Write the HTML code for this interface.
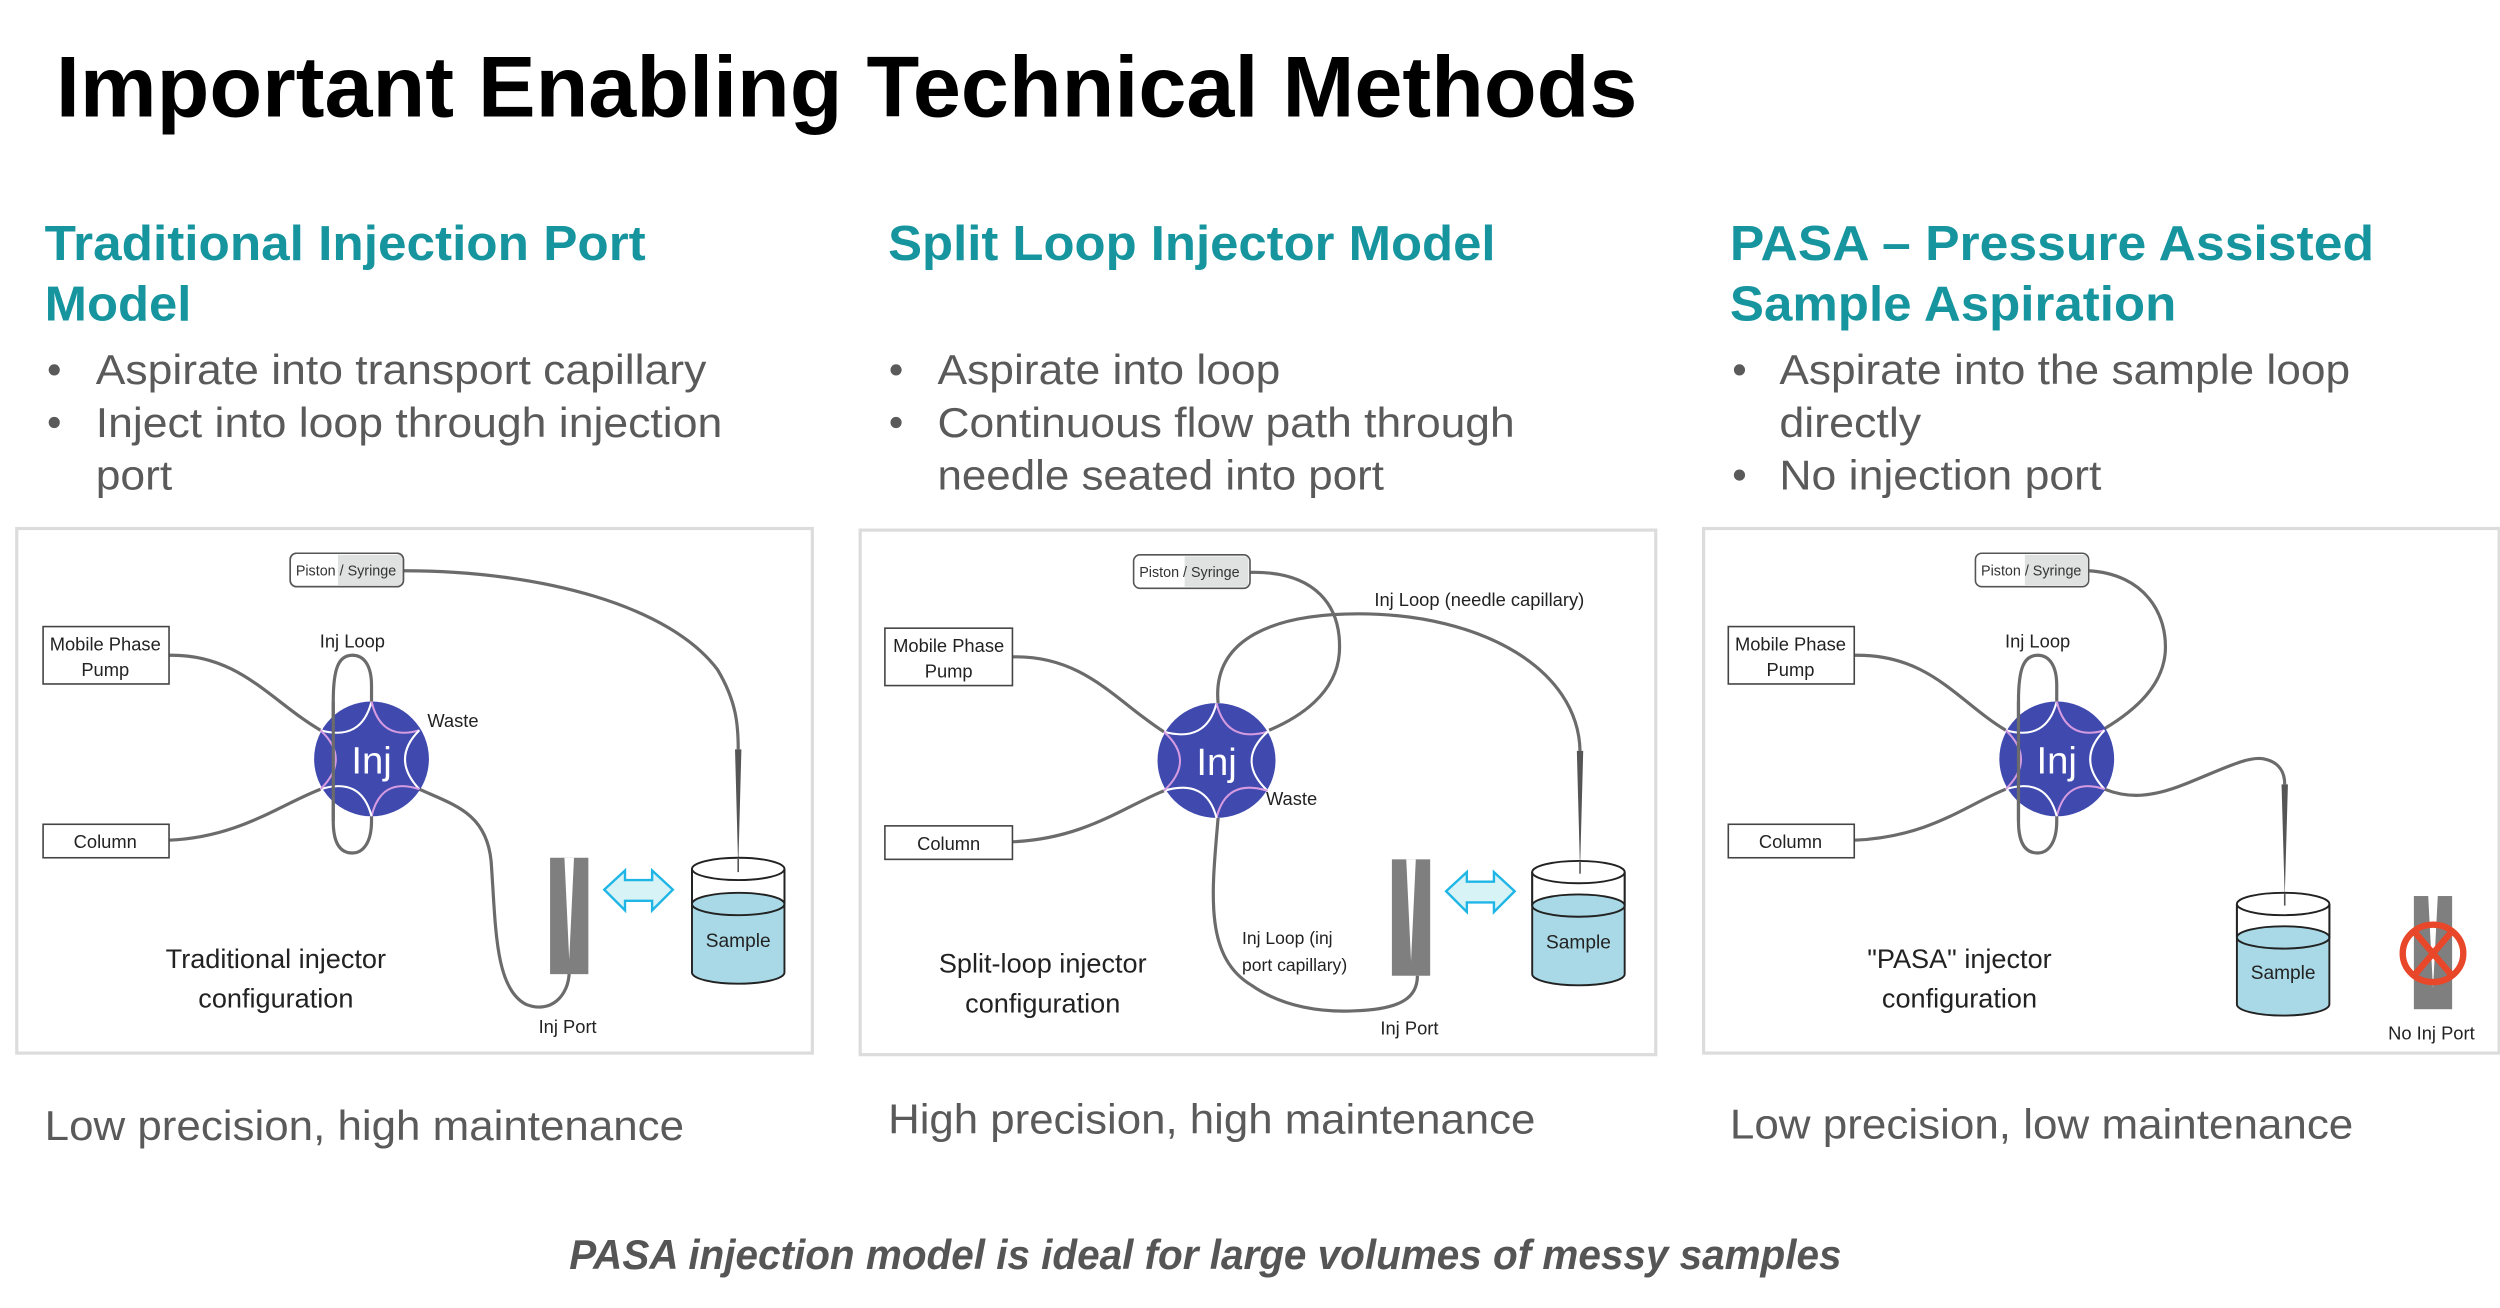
<!DOCTYPE html>
<html><head><meta charset="utf-8"><style>
html,body{margin:0;padding:0;background:#fff;}
svg{display:block;}
text{font-family:"Liberation Sans",sans-serif;}
</style></head><body>
<svg width="2500" height="1308" viewBox="0 0 1568 820.4" xmlns="http://www.w3.org/2000/svg">
<rect width="1568" height="821" fill="#fff"/>
<!-- Title -->
<text x="35" y="73" font-size="54" font-weight="bold" fill="#000" textLength="992" lengthAdjust="spacingAndGlyphs">Important Enabling Technical Methods</text>
<!-- Headings -->
<g fill="#17959f" font-weight="bold" font-size="31">
<text x="28" y="163" textLength="377" lengthAdjust="spacingAndGlyphs">Traditional Injection Port</text>
<text x="28" y="201" textLength="92" lengthAdjust="spacingAndGlyphs">Model</text>
<text x="557" y="163" textLength="381" lengthAdjust="spacingAndGlyphs">Split Loop Injector Model</text>
<text x="1085" y="163" textLength="404" lengthAdjust="spacingAndGlyphs">PASA – Pressure Assisted</text>
<text x="1085" y="201" textLength="280" lengthAdjust="spacingAndGlyphs">Sample Aspiration</text>
</g>
<!-- Bullets -->
<g fill="#5a5a5a" font-size="26">
<circle cx="34" cy="232" r="3.5"/><circle cx="34" cy="265" r="3.5"/>
<text x="60" y="241" textLength="383" lengthAdjust="spacingAndGlyphs">Aspirate into transport capillary</text>
<text x="60" y="274" textLength="393" lengthAdjust="spacingAndGlyphs">Inject into loop through injection</text>
<text x="60" y="307" textLength="48" lengthAdjust="spacingAndGlyphs">port</text>
<circle cx="562" cy="232" r="3.5"/><circle cx="562" cy="265" r="3.5"/>
<text x="588" y="241" textLength="215" lengthAdjust="spacingAndGlyphs">Aspirate into loop</text>
<text x="588" y="274" textLength="362" lengthAdjust="spacingAndGlyphs">Continuous flow path through</text>
<text x="588" y="307" textLength="280" lengthAdjust="spacingAndGlyphs">needle seated into port</text>
<circle cx="1091" cy="232" r="3.5"/><circle cx="1091" cy="298" r="3.5"/>
<text x="1116" y="241" textLength="358" lengthAdjust="spacingAndGlyphs">Aspirate into the sample loop</text>
<text x="1116" y="274" textLength="89" lengthAdjust="spacingAndGlyphs">directly</text>
<text x="1116" y="307" textLength="202" lengthAdjust="spacingAndGlyphs">No injection port</text>
<text x="28" y="715" textLength="401" lengthAdjust="spacingAndGlyphs">Low precision, high maintenance</text>
<text x="557" y="711" textLength="406" lengthAdjust="spacingAndGlyphs">High precision, high maintenance</text>
<text x="1085" y="714" textLength="391" lengthAdjust="spacingAndGlyphs">Low precision, low maintenance</text>
<text x="357" y="796" font-style="italic" font-weight="bold" fill="#555" textLength="798" lengthAdjust="spacingAndGlyphs">PASA injection model is ideal for large volumes of messy samples</text>
</g>
<!-- Panels -->
<g fill="none" stroke="#dcdcdc" stroke-width="2">
<rect x="10.5" y="331.5" width="499" height="329"/>
<rect x="539.5" y="332.5" width="499" height="329"/>
<rect x="1068.5" y="331.5" width="499" height="329"/>
</g>

<!-- ============ PANEL 1 ============ -->
<g>
<g fill="none" stroke="#6b6b6b" stroke-width="2">
<path d="M253,358 C340,358 420,380 450,420 C462,440 463,455 463,470"/>
<path d="M106,411 C150,410 170,440 201,458"/>
<path d="M106,527 C150,525 175,505 201,495"/>
<path d="M221,411 C212,411 209,420 209,440 L209,515 C209,530 214,535 221,535 C228,535 233,528 233,515 L233,430 C233,417 228,411 221,411 Z"/>
<path d="M263,495 C285,505 305,510 308,540 C311,580 310,620 330,630 C345,636 357,625 357,609"/>
</g>
<rect x="182" y="347" width="71" height="21" rx="4" fill="#fff" stroke="#555" stroke-width="1"/>
<rect x="212" y="348" width="40" height="19" fill="#dfe2e0"/>
<rect x="182" y="347" width="71" height="21" rx="4" fill="none" stroke="#555" stroke-width="1"/>
<text x="217" y="361" font-size="9" fill="#333" text-anchor="middle">Piston / Syringe</text>
<polygon points="461,470 465,470 463,545" fill="#555"/>
<rect x="27" y="393" width="79" height="36" fill="#fff" stroke="#444" stroke-width="1"/>
<text x="66" y="408" font-size="11.5" fill="#222" text-anchor="middle">Mobile Phase</text>
<text x="66" y="424" font-size="11.5" fill="#222" text-anchor="middle">Pump</text>
<rect x="27" y="517" width="79" height="21" fill="#fff" stroke="#444" stroke-width="1"/>
<text x="66" y="532" font-size="11.5" fill="#222" text-anchor="middle">Column</text>
<g transform="translate(233,476)">
<ellipse rx="36" ry="36" fill="#3f49ae"/>
<g fill="none" stroke-width="1.3">
<path d="M-32,-18 Q-6.4,-10.8 0,-36" stroke="#fff"/>
<path d="M0,-36 Q6,-10.8 30,-18" stroke="#d59be0"/>
<path d="M30,-18 Q12,0 30,19" stroke="#fff"/>
<path d="M30,19 Q6,11 0,36" stroke="#d59be0"/>
<path d="M0,36 Q-6.4,11 -32,19" stroke="#fff"/>
<path d="M-32,19 Q-12.8,0 -32,-18" stroke="#d59be0"/>
</g>
<text x="0" y="9" font-size="24" fill="#fff" text-anchor="middle">Inj</text>
</g>
<path d="M209,440 L209,515" stroke="#6b6b6b" stroke-width="2"/>
<text x="221" y="406" font-size="11.5" fill="#222" text-anchor="middle">Inj Loop</text>
<text x="268" y="456" font-size="11.5" fill="#222">Waste</text>
<rect x="345" y="538" width="24" height="73" fill="#7f7f7f"/>
<polygon points="354,538 360,538 357,602" fill="#fff"/>
<text x="356" y="648" font-size="11.5" fill="#222" text-anchor="middle">Inj Port</text>
<path d="M379,558 L392,546 L392,552 L409,552 L409,546 L422,558 L409,571 L409,565 L392,565 L392,571 Z" fill="#d8f3f6" stroke="#1fb6e6" stroke-width="1.5"/>
<path d="M434,545 L434,610 A29,7 0 0 0 492,610 L492,545" fill="#a9d9e6" stroke="#222" stroke-width="1.2"/>
<rect x="434.6" y="545" width="56.8" height="22" fill="#fff"/>
<ellipse cx="463" cy="567" rx="29" ry="7" fill="#a9d9e6" stroke="#222" stroke-width="1.2"/>
<path d="M434,545 L434,567 M492,545 L492,567" stroke="#222" stroke-width="1.2"/>
<ellipse cx="463" cy="545" rx="29" ry="7" fill="#fff" stroke="#222" stroke-width="1.2"/>
<line x1="463" y1="538" x2="463" y2="547" stroke="#555" stroke-width="1"/>
<text x="463" y="594" font-size="12" fill="#222" text-anchor="middle">Sample</text>
<text x="173" y="607" font-size="17" fill="#222" text-anchor="middle">Traditional injector</text>
<text x="173" y="632" font-size="17" fill="#222" text-anchor="middle">configuration</text>
</g>

<!-- ============ PANEL 2 ============ -->
<g>
<g fill="none" stroke="#6b6b6b" stroke-width="2">
<path d="M784,359 C825,358 842,380 840,410 C838,435 815,450 796,458"/>
<path d="M764,441 C760,400 800,385 852,385 C930,385 990,420 991,471"/>
<path d="M635,412 C680,411 700,440 730,459"/>
<path d="M635,528 C680,526 705,506 730,496"/>
<path d="M764,513 C760,560 755,600 785,618 C805,632 830,635 850,634 C880,633 889,625 889,612"/>
</g>
<rect x="711" y="348" width="73" height="21" rx="4" fill="#fff"/>
<rect x="743" y="349" width="40" height="19" fill="#dfe2e0"/>
<rect x="711" y="348" width="73" height="21" rx="4" fill="none" stroke="#555" stroke-width="1"/>
<text x="746" y="362" font-size="9" fill="#333" text-anchor="middle">Piston / Syringe</text>
<polygon points="989,471 993,471 991,546" fill="#555"/>
<rect x="555" y="394" width="80" height="36" fill="#fff" stroke="#444" stroke-width="1"/>
<text x="595" y="409" font-size="11.5" fill="#222" text-anchor="middle">Mobile Phase</text>
<text x="595" y="425" font-size="11.5" fill="#222" text-anchor="middle">Pump</text>
<rect x="555" y="518" width="80" height="21" fill="#fff" stroke="#444" stroke-width="1"/>
<text x="595" y="533" font-size="11.5" fill="#222" text-anchor="middle">Column</text>
<g transform="translate(763,477)">
<ellipse rx="37" ry="36" fill="#3f49ae"/>
<g fill="none" stroke-width="1.3">
<path d="M-33,-18 Q-6.4,-10.8 0,-36" stroke="#fff"/>
<path d="M0,-36 Q6,-10.8 32,-18" stroke="#d59be0"/>
<path d="M32,-18 Q12,0 32,19" stroke="#fff"/>
<path d="M32,19 Q6,11 0,36" stroke="#d59be0"/>
<path d="M0,36 Q-6.4,11 -33,19" stroke="#fff"/>
<path d="M-33,19 Q-12.8,0 -33,-18" stroke="#d59be0"/>
</g>
<text x="0" y="9" font-size="24" fill="#fff" text-anchor="middle">Inj</text>
</g>
<text x="862" y="380" font-size="11.5" fill="#222">Inj Loop (needle capillary)</text>
<text x="794" y="505" font-size="11.5" fill="#222">Waste</text>
<text x="779" y="592" font-size="11" fill="#222">Inj Loop (inj</text>
<text x="779" y="609" font-size="11" fill="#222">port capillary)</text>
<rect x="873" y="539" width="24" height="73" fill="#7f7f7f"/>
<polygon points="882,539 888,539 885,603" fill="#fff"/>
<text x="884" y="649" font-size="11.5" fill="#222" text-anchor="middle">Inj Port</text>
<path d="M907,559 L920,547 L920,553 L937,553 L937,547 L950,559 L937,572 L937,566 L920,566 L920,572 Z" fill="#d8f3f6" stroke="#1fb6e6" stroke-width="1.5"/>
<path d="M961,547 L961,611 A29,7 0 0 0 1019,611 L1019,547" fill="#a9d9e6" stroke="#222" stroke-width="1.2"/>
<rect x="961.6" y="547" width="56.8" height="21" fill="#fff"/>
<ellipse cx="990" cy="568" rx="29" ry="7" fill="#a9d9e6" stroke="#222" stroke-width="1.2"/>
<path d="M961,547 L961,568 M1019,547 L1019,568" stroke="#222" stroke-width="1.2"/>
<ellipse cx="990" cy="547" rx="29" ry="7" fill="#fff" stroke="#222" stroke-width="1.2"/>
<line x1="991" y1="540" x2="991" y2="548" stroke="#555" stroke-width="1"/>
<text x="990" y="595" font-size="12" fill="#222" text-anchor="middle">Sample</text>
<text x="654" y="610" font-size="17" fill="#222" text-anchor="middle">Split-loop injector</text>
<text x="654" y="635" font-size="17" fill="#222" text-anchor="middle">configuration</text>
</g>

<!-- ============ PANEL 3 ============ -->
<g>
<g fill="none" stroke="#6b6b6b" stroke-width="2">
<path d="M1310,358 C1345,360 1360,385 1358,410 C1356,430 1340,445 1320,457"/>
<path d="M1163,411 C1210,410 1228,440 1258,458"/>
<path d="M1163,527 C1210,525 1233,505 1258,495"/>
<path d="M1278,411 C1269,411 1266,420 1266,440 L1266,515 C1266,530 1271,535 1278,535 C1285,535 1290,528 1290,515 L1290,430 C1290,417 1285,411 1278,411 Z"/>
<path d="M1320,495 C1335,501 1350,500 1370,492 C1395,482 1410,474 1420,476 C1430,478 1433,485 1433,492"/>
</g>
<rect x="1239" y="347" width="71" height="21" rx="4" fill="#fff"/>
<rect x="1270" y="348" width="39" height="19" fill="#dfe2e0"/>
<rect x="1239" y="347" width="71" height="21" rx="4" fill="none" stroke="#555" stroke-width="1"/>
<text x="1274" y="361" font-size="9" fill="#333" text-anchor="middle">Piston / Syringe</text>
<polygon points="1431,492 1435,492 1433,563" fill="#555"/>
<rect x="1084" y="393" width="79" height="36" fill="#fff" stroke="#444" stroke-width="1"/>
<text x="1123" y="408" font-size="11.5" fill="#222" text-anchor="middle">Mobile Phase</text>
<text x="1123" y="424" font-size="11.5" fill="#222" text-anchor="middle">Pump</text>
<rect x="1084" y="517" width="79" height="21" fill="#fff" stroke="#444" stroke-width="1"/>
<text x="1123" y="532" font-size="11.5" fill="#222" text-anchor="middle">Column</text>
<g transform="translate(1290,476)">
<ellipse rx="36" ry="36" fill="#3f49ae"/>
<g fill="none" stroke-width="1.3">
<path d="M-32,-18 Q-6.4,-10.8 0,-36" stroke="#fff"/>
<path d="M0,-36 Q6,-10.8 30,-18" stroke="#d59be0"/>
<path d="M30,-18 Q12,0 30,19" stroke="#fff"/>
<path d="M30,19 Q6,11 0,36" stroke="#d59be0"/>
<path d="M0,36 Q-6.4,11 -32,19" stroke="#fff"/>
<path d="M-32,19 Q-12.8,0 -32,-18" stroke="#d59be0"/>
</g>
<text x="0" y="9" font-size="24" fill="#fff" text-anchor="middle">Inj</text>
</g>
<path d="M1266,440 L1266,515" stroke="#6b6b6b" stroke-width="2"/>
<text x="1278" y="406" font-size="11.5" fill="#222" text-anchor="middle">Inj Loop</text>
<path d="M1403,567 L1403,630 A29,7 0 0 0 1461,630 L1461,567" fill="#a9d9e6" stroke="#222" stroke-width="1.2"/>
<rect x="1403.6" y="567" width="56.8" height="21" fill="#fff"/>
<ellipse cx="1432" cy="588" rx="29" ry="7" fill="#a9d9e6" stroke="#222" stroke-width="1.2"/>
<path d="M1403,567 L1403,588 M1461,567 L1461,588" stroke="#222" stroke-width="1.2"/>
<ellipse cx="1432" cy="567" rx="29" ry="7" fill="#fff" stroke="#222" stroke-width="1.2"/>
<line x1="1433" y1="560" x2="1433" y2="568" stroke="#555" stroke-width="1"/>
<text x="1432" y="614" font-size="12" fill="#222" text-anchor="middle">Sample</text>
<rect x="1514" y="562" width="24" height="71" fill="#7f7f7f"/>
<polygon points="1523,562 1529,562 1526,620" fill="#fff"/>
<ellipse cx="1526" cy="598" rx="19" ry="18" fill="none" stroke="#e8472a" stroke-width="4"/>
<path d="M1514,584 L1538,612 M1538,584 L1514,612" stroke="#e8472a" stroke-width="4"/>
<text x="1525" y="652" font-size="11.5" fill="#222" text-anchor="middle">No Inj Port</text>
<text x="1229" y="607" font-size="17" fill="#222" text-anchor="middle">"PASA" injector</text>
<text x="1229" y="632" font-size="17" fill="#222" text-anchor="middle">configuration</text>
</g>
</svg>
</body></html>
